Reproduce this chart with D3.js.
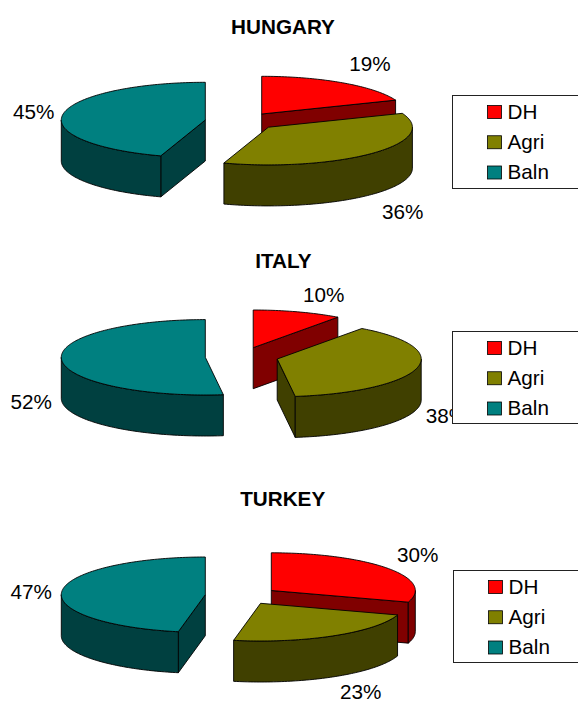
<!DOCTYPE html>
<html>
<head>
<meta charset="utf-8">
<script src="https://cdn.jsdelivr.net/npm/d3@7"></script>
<style>
  html, body { margin: 0; padding: 0; background: #fff; }
  svg { display: block; }
  text { font-family: "Liberation Sans", Arial, sans-serif; fill: #000; }
</style>
</head>
<body>
<div id="chart"></div>
<script>
// Land-use shares per country
const categories = ["DH", "Agri", "Baln"];
const countries = ["HUNGARY", "ITALY", "TURKEY"];
const hungaryValues = [19, 36, 45];
const italyValues = [10, 38, 52];
const turkeyValues = [30, 23, 47];
const seriesValues = [hungaryValues, italyValues, turkeyValues];

const topColors = ["#ff0000", "#808000", "#008080"];
const sideColors = ["#800000", "#404000", "#004040"];

// Ellipse radii and extrusion of the tilted pies
const W = 578, H = 704;
const rx = 144, ry = 37.7, depth = 41;
const fontSize = 20.7;

// Per-panel placement: title, slice apexes (exploded), label anchors, legend box
const panels = [
  {
    title: [283, 33.5],
    apex: [[261.7, 114], [268.4, 127.2], [205.3, 120]],
    labels: [[370, 70.7], [402.7, 219], [33.7, 119.3]],
    legend: { x: 452.5, y: 95.5, h: 93, swatchX: 487.5, textX: 507.5 }
  },
  {
    title: [283.4, 268.3],
    apex: [[253.2, 347.7], [277.2, 359], [205.3, 357.3]],
    labels: [[323.8, 301.7], [446.4, 423.3], [31.3, 409.3]],
    legend: { x: 452.5, y: 331.5, h: 92, swatchX: 487.5, textX: 507.5 }
  },
  {
    title: [282.7, 506],
    apex: [[271.3, 590.5], [260.6, 603.3], [205.3, 594.7]],
    labels: [[417.6, 562.3], [360.7, 699.4], [31.3, 599.3]],
    legend: { x: 453.5, y: 570.5, h: 92, swatchX: 488.5, textX: 508.5 }
  }
];

const svg = d3.select("#chart").append("svg")
  .attr("width", W).attr("height", H).attr("viewBox", [0, 0, W, H]);

const pie = d3.pie().sort(null).value(d => d);
const line = d3.line();

// Rim point of a slice at pie angle a (0 = top, clockwise)
const rim = (c, a, dy = 0) => [c[0] + rx * Math.sin(a), c[1] - ry * Math.cos(a) + dy];

// Samples of the rim between two angles
function arcPoints(c, a0, a1, dy = 0) {
  const n = Math.max(2, Math.ceil(Math.abs(a1 - a0) / 0.02));
  return d3.range(n + 1).map(i => rim(c, a0 + (a1 - a0) * i / n, dy));
}

function topPath(c, a0, a1) {
  return line([c, ...arcPoints(c, a0, a1)]) + "Z";
}

// Flat face between the apex and the rim at angle a
function cutPath(c, a) {
  const p = rim(c, a);
  return line([c, p, [p[0], p[1] + depth], [c[0], c[1] + depth]]) + "Z";
}

// Visible part of the curved wall: the near half of the ellipse
function wallPath(c, a0, a1) {
  const s = Math.max(a0, Math.PI / 2), e = Math.min(a1, 3 * Math.PI / 2);
  if (e <= s) return null;
  return line([...arcPoints(c, s, e), ...arcPoints(c, e, s, depth)]) + "Z";
}

panels.forEach((panel, pi) => {
  const g = svg.append("g").attr("class", "panel");
  const arcs = pie(seriesValues[pi]).map((d, i) => ({ ...d, i, c: panel.apex[i] }));

  // Back-to-front so nearer slices cover farther ones
  const slices = g.selectAll("g.slice")
    .data(arcs.slice().sort((a, b) => d3.ascending(a.c[1], b.c[1])))
    .join("g").attr("class", "slice")
    .attr("stroke", "#000").attr("stroke-width", 0.9).attr("stroke-linejoin", "round");

  slices.each(function (d) {
    const s = d3.select(this);
    const side = sideColors[d.i];
    const faces = [];
    if (Math.sin(d.startAngle) < -1e-6) faces.push(cutPath(d.c, d.startAngle));
    if (Math.sin(d.endAngle) > 1e-6) faces.push(cutPath(d.c, d.endAngle));
    const wall = wallPath(d.c, d.startAngle, d.endAngle);
    if (wall) faces.push(wall);
    faces.forEach(f => s.append("path").attr("d", f).attr("fill", side));
    s.append("path").attr("d", topPath(d.c, d.startAngle, d.endAngle)).attr("fill", topColors[d.i]);
  });

  // Percentage labels
  g.selectAll("text.pct").data(arcs).join("text")
    .attr("class", "pct")
    .attr("x", d => panel.labels[d.i][0])
    .attr("y", d => panel.labels[d.i][1])
    .attr("text-anchor", "middle")
    .attr("font-size", fontSize)
    .text(d => d.value + "%");

  // Country title
  g.append("text")
    .attr("x", panel.title[0]).attr("y", panel.title[1])
    .attr("text-anchor", "middle")
    .attr("font-size", fontSize).attr("font-weight", "bold")
    .text(countries[pi]);

  // Legend box runs off the right edge of the page
  const L = panel.legend;
  const lg = g.append("g").attr("class", "legend");
  lg.append("rect")
    .attr("x", L.x).attr("y", L.y).attr("width", W - L.x + 10).attr("height", L.h)
    .attr("fill", "#fff").attr("stroke", "#222").attr("stroke-width", 1);

  const rowY = d3.scalePoint().domain(categories).range([L.y + 16.5, L.y + 77]);
  const rows = lg.selectAll("g.row").data(categories).join("g").attr("class", "row");
  rows.append("rect")
    .attr("x", L.swatchX).attr("y", d => rowY(d) - 6.5)
    .attr("width", 14).attr("height", 13)
    .attr("fill", (d, i) => topColors[i])
    .attr("stroke", "#000").attr("stroke-width", 0.8);
  rows.append("text")
    .attr("x", L.textX).attr("y", d => rowY(d) + 6.8)
    .attr("font-size", fontSize)
    .text(d => d);
});
</script>
</body>
</html>
